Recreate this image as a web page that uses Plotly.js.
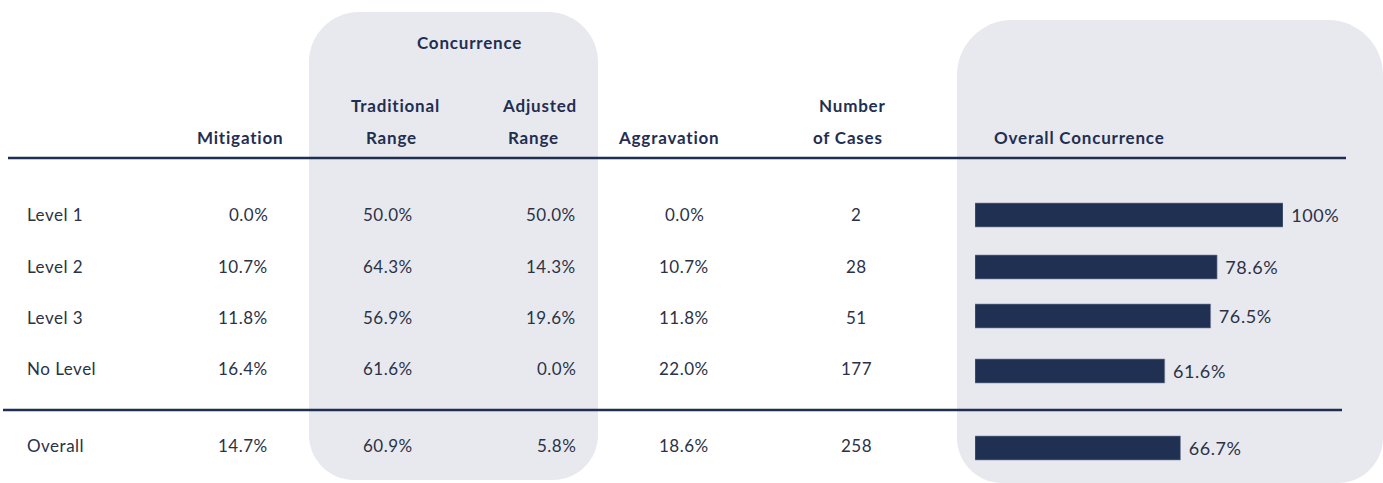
<!DOCTYPE html>
<html>
<head>
<meta charset="utf-8">
<script src="https://cdn.plot.ly/plotly-3.0.1.min.js"></script>
<style>html,body{margin:0;padding:0;background:#fff;}#chart{width:1383px;height:483px;}</style>
</head>
<body>
<div id="chart"></div>
<script>
// ---- data ----
const categories = ["Level 1", "Level 2", "Level 3", "No Level", "Overall"];
const mitigation = [0.0, 10.7, 11.8, 16.4, 14.7];
const traditionalRange = [50.0, 64.3, 56.9, 61.6, 60.9];
const adjustedRange = [50.0, 14.3, 19.6, 0.0, 5.8];
const aggravation = [0.0, 10.7, 11.8, 22.0, 18.6];
const numberOfCases = [2, 28, 51, 177, 258];
const overallConcurrence = [100, 78.6, 76.5, 61.6, 66.7];

// ---- layout constants (pixel space) ----
const W = 1383, H = 483;
const rowY = [214, 266, 317, 368, 445];
const barRowY = [215, 267, 316, 371, 448];
const navy = "#1f2f52";
const bodyCol = "#2b3246";
const boxFill = "#e8e9ee";
const FONT = "Lato, 'Open Sans', sans-serif";

function pct(v) { return v === 100 ? "100%" : v.toFixed(1) + "%"; }

const annotations = [];
function txt(x, y, text, anchor, bold) {
  const sp = bold ? "0.8px" : "0.5px";
  const inner = `<span style="letter-spacing:${sp}">${text}</span>`;
  annotations.push({
    x: x, y: y, xref: "x", yref: "y", text: bold ? "<b>" + inner + "</b>" : inner,
    showarrow: false, xanchor: anchor, yanchor: "middle",
    font: { family: FONT, size: 17, color: bold ? navy : bodyCol }
  });
}
// headers
txt(469, 42, "Concurrence", "center", true);
txt(395, 105, "Traditional", "center", true);
txt(391, 137, "Range", "center", true);
txt(539, 105, "Adjusted", "center", true);
txt(533, 137, "Range", "center", true);
txt(285, 137, "Mitigation", "right", true);
txt(668, 137, "Aggravation", "center", true);
txt(852, 105, "Number", "center", true);
txt(848, 137, "of Cases", "center", true);
txt(992, 137, "Overall Concurrence", "left", true);

// body cells
categories.forEach((c, i) => {
  const y = rowY[i];
  txt(25, y, c, "left", false);
  txt(270, y, pct(mitigation[i]), "right", false);
  txt(388, y, pct(traditionalRange[i]), "center", false);
  txt(578, y, pct(adjustedRange[i]), "right", false);
  txt(684, y, pct(aggravation[i]), "center", false);
  txt(856, y, String(numberOfCases[i]), "center", false);
});

function roundedRect(x0, y0, x1, y1, rt, rb) {
  return `M ${x0} ${y0 + rt} C ${x0} ${y0 + rt * 0.45} ${x0 + rt * 0.45} ${y0} ${x0 + rt} ${y0} ` +
    `L ${x1 - rt} ${y0} C ${x1 - rt * 0.45} ${y0} ${x1} ${y0 + rt * 0.45} ${x1} ${y0 + rt} ` +
    `L ${x1} ${y1 - rb} C ${x1} ${y1 - rb * 0.45} ${x1 - rb * 0.45} ${y1} ${x1 - rb} ${y1} ` +
    `L ${x0 + rb} ${y1} C ${x0 + rb * 0.45} ${y1} ${x0} ${y1 - rb * 0.45} ${x0} ${y1 - rb} Z`;
}

const shapes = [
  { type: "path", xref: "x", yref: "y", path: roundedRect(309, 12, 598, 480, 50, 45), fillcolor: boxFill, line: { width: 0 }, layer: "below" },
  { type: "path", xref: "x", yref: "y", path: roundedRect(957, 20, 1383, 483, 55, 45), fillcolor: boxFill, line: { width: 0 }, layer: "below" },
  { type: "line", xref: "x", yref: "y", x0: 8, x1: 1346, y0: 158, y1: 158, line: { color: navy, width: 2.5 } },
  { type: "line", xref: "x", yref: "y", x0: 3, x1: 1342, y0: 410, y1: 410, line: { color: navy, width: 2.5 } }
];

const barTrace = {
  type: "bar", orientation: "h",
  x: overallConcurrence, y: barRowY,
  xaxis: "x2", yaxis: "y",
  width: 24,
  marker: { color: "#1f3052", line: { color: "#7f8aa3", width: 0.6 } },
  text: overallConcurrence.map(v => `<span style="letter-spacing:0.6px">\u00a0${pct(v)}</span>`),
  textposition: "outside",
  constraintext: "none",
  textfont: { family: FONT, size: 18, color: bodyCol },
  cliponaxis: false,
  hoverinfo: "skip"
};

const axisOff = { showgrid: false, zeroline: false, showticklabels: false, showline: false, ticks: "" };

const layout = {
  width: W, height: H,
  margin: { l: 0, r: 0, t: 0, b: 0, pad: 0 },
  paper_bgcolor: "#ffffff", plot_bgcolor: "rgba(0,0,0,0)",
  showlegend: false,
  xaxis: Object.assign({ range: [0, W], domain: [0, 1], fixedrange: true }, axisOff),
  xaxis2: Object.assign({ range: [0, 100], domain: [975 / W, 1283 / W], anchor: "y", fixedrange: true }, axisOff),
  yaxis: Object.assign({ range: [H, 0], domain: [0, 1], fixedrange: true }, axisOff),
  shapes: shapes,
  annotations: annotations
};

Plotly.newPlot("chart", [barTrace], layout, { staticPlot: true, displayModeBar: false });
</script>
</body>
</html>
